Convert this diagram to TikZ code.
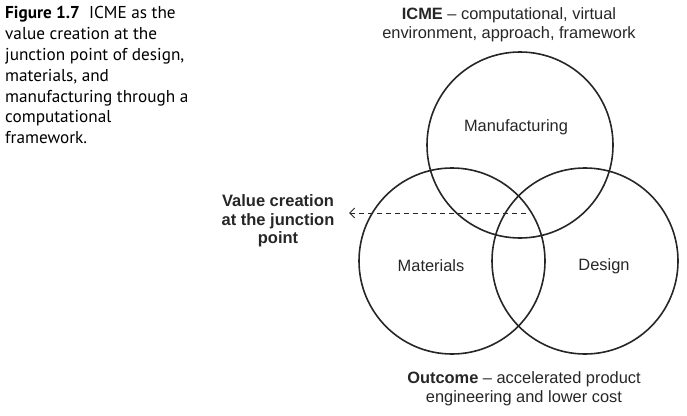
\documentclass[tikz,border=0pt]{standalone}
\usepackage{fontspec}
\setmainfont{Liberation Sans}
\newfontfamily\capfont{PT Sans}
\usetikzlibrary{arrows.meta}
\begin{document}
\begin{tikzpicture}[x=1pt,y=-1pt,
  ring/.style={draw=black!85, line width=1.6pt},
  lbl/.style={font=\fontsize{16.4}{18.5}\selectfont, text=black!85, inner sep=0pt, align=center},
  captext/.style={font=\capfont\fontsize{17.2}{20.9}\selectfont, text=black, inner sep=0pt, align=left, anchor=north west}]
\useasboundingbox (0,0) rectangle (687,415);
\node[ring, circle, minimum size=186pt, inner sep=0pt] (manu) at (520,145) {};
\node[ring, circle, minimum size=186pt, inner sep=0pt] (mat) at (452,261) {};
\node[ring, circle, minimum size=186pt, inner sep=0pt] (des) at (585,261) {};
\node[lbl] (manul) at (516,127) {Manufacturing};
\node[lbl] (matl) at (431,266) {Materials};
\node[lbl] (desl) at (604,266) {Design};
\node[lbl, font=\bfseries\fontsize{16.5}{18.5}\selectfont] (value) at (278,221) {Value creation\\at the junction\\point};
\node[lbl] (icme) at (509,25) {\textbf{ICME} -- computational, virtual\\environment, approach, framework};
\node[lbl] (out) at (524,389) {\textbf{Outcome} -- accelerated product\\engineering and lower cost};
\coordinate (junc) at (526,213);
\coordinate (vend) at (349,213);
\draw[dashed, line width=0.9pt, black!85, dash pattern=on 5pt off 4pt, -{Straight Barb[length=5pt,width=10pt,line width=0.9pt]}] (junc) -- (vend);
\node[captext] (caption) at (5,6) {\textbf{Figure 1.7}\ \ ICME as the\\value creation at the\\junction point of design,\\materials, and\\manufacturing through a\\computational\\framework.};
\end{tikzpicture}
\end{document}
